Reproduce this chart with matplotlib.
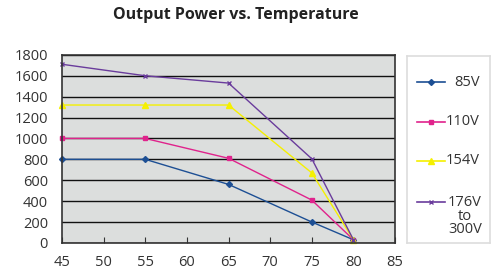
import matplotlib
matplotlib.use("Agg")
import matplotlib.pyplot as plt
from matplotlib.lines import Line2D

temps = [45, 55, 65, 75, 80]
v85 = [800, 800, 560, 200, 30]
v110 = [1000, 1000, 810, 410, 30]
v154 = [1320, 1320, 1320, 670, 30]
v176 = [1710, 1600, 1530, 805, 30]
labels = ["85V", "110V", "154V", "176V\nto\n300V"]
colors = ["#1d4f94", "#e0238c", "#f5f000", "#6a3c9c"]
markers = ["D", "s", "^", "x"]
msizes = [3, 3.5, 4, 3.5]
xticks = [45, 50, 55, 60, 65, 70, 75, 80, 85]
yticks = list(range(0, 1801, 200))

plt.rcParams['font.family'] = ['Open Sans', 'DejaVu Sans']
fig = plt.figure(figsize=(4.92, 2.69), dpi=100)
ax = fig.add_axes([0.126, 0.097, 0.677, 0.699])
ax.set_facecolor("#dcdedd")
ax.set_axisbelow(True)
ax.yaxis.grid(True, color="#111111", linewidth=1.0)
series = [v85, v110, v154, v176]
for s, c, m, ms in zip(series, colors, markers, msizes):
    ax.plot(temps, s, color=c, marker=m, markersize=ms, linewidth=1.0, clip_on=False)
ax.set_xlim(45, 85)
ax.set_ylim(0, 1800)
ax.set_xticks(xticks)
ax.set_yticks(yticks)
ax.tick_params(axis='x', direction='in', length=4, labelsize=10.5, color="#333333",
               pad=9, labelcolor="#333333")
ax.tick_params(axis='y', length=0, labelsize=10.5, pad=10, labelcolor="#333333")
for sp in ax.spines.values():
    sp.set_color("#333333")
    sp.set_linewidth(1.2)

fig.text(0.48, 0.945, "Output Power vs. Temperature", ha='center', va='center',
         fontsize=11.5, fontweight='bold', color="#222222")

lax = fig.add_axes([0.827, 0.097, 0.169, 0.695])
lax.set_xlim(0, 1)
lax.set_ylim(0, 1)
lax.set_xticks([])
lax.set_yticks([])
for sp in lax.spines.values():
    sp.set_color("#dddddd")
    sp.set_linewidth(1.2)
ys = [0.86, 0.647, 0.44, 0.22]
for lbl, c, m, ms, yy in zip(labels, colors, markers, msizes, ys):
    lax.add_line(Line2D([0.12, 0.46], [yy, yy], color=c, linewidth=1.2))
    lax.plot([0.29], [yy], marker=m, color=c, markersize=ms)
    if "\n" in lbl:
        lax.text(0.7, yy + 0.035, lbl, ha='center', va='top', fontsize=10.5,
                 color="#333333", linespacing=0.85)
    elif lbl == "85V":
        lax.text(0.57, yy, lbl, ha='left', va='center', fontsize=10.5, color="#333333")
    else:
        lax.text(0.47, yy, lbl, ha='left', va='center', fontsize=10.5, color="#333333")

fig.savefig("out.png", dpi=100)
